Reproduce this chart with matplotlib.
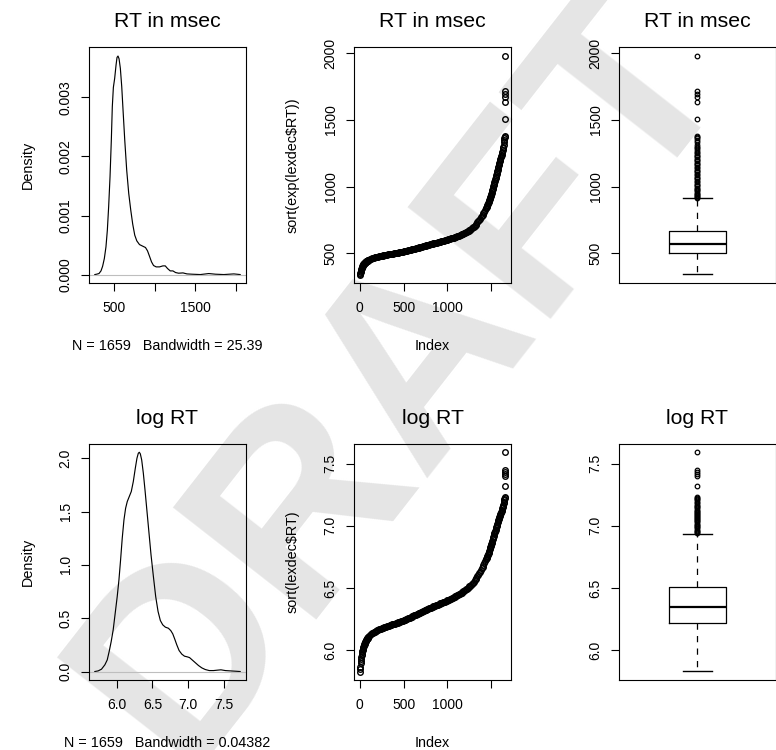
import numpy as np
import matplotlib
matplotlib.use("Agg")
import matplotlib.pyplot as plt

plt.rcParams['font.family'] = ['Liberation Sans', 'DejaVu Sans']
plt.rcParams['lines.scale_dashes'] = False

# ---------------- data ----------------
n_obs = 1659
bandwidth_msec = 25.39
bandwidth_log = 0.04382
title_msec = "RT in msec"
title_log = "log RT"
ylab_msec = "sort(exp(lexdec$RT))"
ylab_log = "sort(lexdec$RT)"
watermark = "DRAFT"

# density estimate of RT in msec (density in units of 1e-3)
dens_msec_x = [264, 286, 315, 340, 360, 381, 401, 418, 434, 451,
               467, 479, 492, 508, 525, 537, 549, 562, 578, 595,
               611, 632, 656, 681, 706, 730, 755, 780, 813, 854,
               887, 912, 936, 961, 986, 1018, 1060, 1101, 1130, 1158,
               1191, 1224, 1257, 1294, 1348, 1397, 1459, 1562, 1665, 1747,
               1850, 1973, 2051]
dens_msec_y = [0.000, 0.006, 0.017, 0.062, 0.141, 0.271, 0.469, 0.751, 1.147, 1.655,
               2.277, 2.842, 3.169, 3.322, 3.548, 3.678, 3.701, 3.655, 3.492, 3.181,
               2.785, 2.277, 1.768, 1.373, 1.090, 0.853, 0.667, 0.571, 0.508, 0.480,
               0.458, 0.401, 0.311, 0.215, 0.153, 0.130, 0.130, 0.147, 0.147, 0.102,
               0.062, 0.062, 0.034, 0.023, 0.028, 0.011, 0.006, 0.000, 0.017, 0.006,
               0.000, 0.011, 0.000]

# density estimate of log RT
dens_log_x = [5.697, 5.744, 5.790, 5.837, 5.870, 5.897, 5.925, 5.953, 5.981, 6.009,
              6.033, 6.056, 6.079, 6.103, 6.126, 6.149, 6.177, 6.205, 6.233, 6.261,
              6.284, 6.303, 6.317, 6.331, 6.350, 6.373, 6.396, 6.424, 6.452, 6.480,
              6.513, 6.545, 6.578, 6.610, 6.643, 6.680, 6.722, 6.755, 6.783, 6.811,
              6.839, 6.871, 6.909, 6.946, 6.983, 7.016, 7.053, 7.095, 7.142, 7.188,
              7.235, 7.291, 7.351, 7.407, 7.454, 7.515, 7.584, 7.654, 7.722]
dens_log_y = [0.000, 0.006, 0.022, 0.063, 0.109, 0.188, 0.281, 0.391, 0.547, 0.703,
              0.859, 1.047, 1.250, 1.422, 1.531, 1.594, 1.641, 1.688, 1.781, 1.906,
              2.000, 2.047, 2.056, 2.041, 1.984, 1.859, 1.703, 1.500, 1.297, 1.094,
              0.891, 0.703, 0.563, 0.478, 0.438, 0.416, 0.406, 0.384, 0.353, 0.303,
              0.250, 0.197, 0.163, 0.144, 0.138, 0.131, 0.109, 0.084, 0.056, 0.034,
              0.019, 0.009, 0.009, 0.013, 0.016, 0.009, 0.006, 0.003, 0.000]

# sorted log RT
# smallest values: ranks 1, 4, 7, ..., 100
log_rt_head = [5.828, 5.845, 5.868, 5.893, 5.912, 5.928, 5.944, 5.958, 5.970, 5.982,
               5.993, 6.003, 6.012, 6.021, 6.029, 6.036, 6.042, 6.047, 6.052, 6.057,
               6.062, 6.066, 6.070, 6.074, 6.078, 6.082, 6.086, 6.089, 6.092, 6.095,
               6.098, 6.101, 6.103, 6.106]
# bulk: ranks 111, 121, ..., 1441
log_rt_body = [6.115, 6.122, 6.128, 6.134, 6.139, 6.144, 6.148, 6.152, 6.156,
               6.160, 6.163, 6.167, 6.170, 6.173, 6.176, 6.179, 6.182, 6.185, 6.188,
               6.190, 6.193, 6.195, 6.198, 6.200, 6.203, 6.205, 6.207, 6.210, 6.212,
               6.214, 6.216, 6.218, 6.221, 6.224, 6.226, 6.229, 6.232, 6.234, 6.237,
               6.240, 6.243, 6.246, 6.249, 6.252, 6.256, 6.259, 6.262, 6.266, 6.269,
               6.272, 6.275, 6.279, 6.282, 6.285, 6.289, 6.292, 6.295, 6.299, 6.302,
               6.305, 6.308, 6.312, 6.315, 6.319, 6.322, 6.325, 6.329, 6.332, 6.335,
               6.338, 6.341, 6.345, 6.348, 6.351, 6.354, 6.357, 6.360, 6.363, 6.366,
               6.370, 6.373, 6.376, 6.379, 6.382, 6.385, 6.388, 6.391, 6.394, 6.397,
               6.400, 6.404, 6.407, 6.411, 6.415, 6.419, 6.422, 6.426, 6.430, 6.434,
               6.438, 6.442, 6.446, 6.450, 6.454, 6.459, 6.463, 6.468, 6.473, 6.478,
               6.483, 6.488, 6.493, 6.499, 6.505, 6.512, 6.519, 6.526, 6.534, 6.542,
               6.550, 6.561, 6.572, 6.583, 6.595, 6.607, 6.620, 6.632, 6.645, 6.659,
               6.672, 6.686, 6.700, 6.714, 6.729]
# upper tail: ranks 1445, 1449, ..., 1649
log_rt_tail = [6.735, 6.742, 6.749, 6.757, 6.766, 6.775, 6.784, 6.792, 6.801, 6.810,
               6.819, 6.828, 6.836, 6.845, 6.853, 6.862, 6.871, 6.880, 6.890, 6.900,
               6.910, 6.920, 6.930, 6.940, 6.950, 6.960, 6.970, 6.980, 6.989, 6.999,
               7.009, 7.018, 7.028, 7.037, 7.046, 7.055, 7.064, 7.073, 7.081, 7.090,
               7.098, 7.106, 7.114, 7.122, 7.130, 7.140, 7.150, 7.160, 7.170, 7.180,
               7.195, 7.210]
# the largest values, with their ranks
rank_top = [1651, 1652, 1653, 1654, 1655, 1656, 1657, 1658, 1659]
log_rt_top = [7.218, 7.224, 7.228, 7.318, 7.400, 7.420, 7.435, 7.450, 7.591]

# boxplot five-number summaries
box_msec = dict(whislo=343, q1=500, med=572, q3=669, whishi=915)
box_log = dict(whislo=5.831, q1=6.217, med=6.348, q3=6.506, whishi=6.932)

# tick labels
ticks_msec_dx = [500, 1000, 1500, 2000]
ticklab_msec_dx = ["500", "", "1500", ""]
ticks_msec_dy = [0.0, 0.001, 0.002, 0.003]
ticklab_msec_dy = ["0.000", "0.001", "0.002", "0.003"]
ticks_log_dx = [6.0, 6.5, 7.0, 7.5]
ticklab_log_dx = ["6.0", "6.5", "7.0", "7.5"]
ticks_log_dy = [0.0, 0.5, 1.0, 1.5, 2.0]
ticklab_log_dy = ["0.0", "0.5", "1.0", "1.5", "2.0"]
ticks_index = [0, 500, 1000, 1500]
ticklab_index = ["0", "500", "1000", ""]
ticks_msec_v = [500, 1000, 1500, 2000]
ticklab_msec_v = ["500", "1000", "1500", "2000"]
ticks_log_v = [6.0, 6.5, 7.0, 7.5]
ticklab_log_v = ["6.0", "6.5", "7.0", "7.5"]

# ---------------- figure ----------------
W, H, DPI = 776, 750, 100
fig = plt.figure(figsize=(W / DPI, H / DPI), dpi=DPI, facecolor="white")

FS_TICK = 10
FS_LAB = 10.4
FS_TITLE = 15.3
LW = 0.8

col_left = [89, 354, 619]
col_w = [157, 157, 156.5]
row_top = [47.3, 443.5]
row_bot = [283.3, 680.3]


def make_ax(r, c):
    l = col_left[c]
    ax = fig.add_axes([l / W, 1 - row_bot[r] / H, col_w[c] / W,
                       (row_bot[r] - row_top[r]) / H])
    ax.patch.set_alpha(0)
    for s in ax.spines.values():
        s.set_linewidth(LW)
    ax.tick_params(direction="out", length=5.8, width=LW, labelsize=FS_TICK)
    ax.tick_params(axis="x", pad=7.0)
    ax.tick_params(axis="y", pad=6.0)
    return ax


def rlim(lo, hi):
    d = 0.04 * (hi - lo)
    return lo - d, hi + d


def px_text(xpx, ypx, s, **kw):
    fig.text(xpx / W, 1 - ypx / H, s, **kw)


def decorate(ax, r, c, title, xlab=None, ylab=None):
    cx = col_left[c] + col_w[c] / 2
    ax.set_title(title, fontsize=FS_TITLE, pad=14.4)
    if xlab:
        px_text(cx, row_bot[r] + 67, xlab, ha="center", va="baseline", fontsize=FS_LAB)
    if ylab:
        cy = (row_top[r] + row_bot[r]) / 2
        px_text(col_left[c] - 57.5, cy, ylab, ha="center", va="baseline",
                rotation=90, rotation_mode="anchor", fontsize=FS_LAB)


# watermark behind everything
fig.text(0.52, 0.50, watermark, fontsize=190, fontweight="bold", color="#e5e5e5",
         rotation=52, ha="center", va="center", zorder=-5)

# --- density panels ---
dens_sets = [
    (np.array(dens_msec_x), np.array(dens_msec_y) * 1e-3, bandwidth_msec, title_msec,
     ticks_msec_dx, ticklab_msec_dx, ticks_msec_dy, ticklab_msec_dy),
    (np.array(dens_log_x), np.array(dens_log_y), bandwidth_log, title_log,
     ticks_log_dx, ticklab_log_dx, ticks_log_dy, ticklab_log_dy),
]
for r, (dx, dy, bw, ttl, xt, xtl, yt, ytl) in enumerate(dens_sets):
    ax = make_ax(r, 0)
    ax.plot(dx, dy, color="black", lw=LW * 1.05)
    ax.axhline(0, color="#bebebe", lw=LW)
    ax.set_xlim(*rlim(dx.min(), dx.max()))
    ax.set_ylim(*rlim(0, dy.max()))
    ax.set_xticks(xt, xtl)
    ax.set_yticks(yt, ytl, rotation=90, va="center")
    decorate(ax, r, 0, ttl, xlab=f"N = {n_obs}   Bandwidth = {bw:.4g}", ylab="Density")

# --- sorted index panels ---
ranks = np.concatenate([np.arange(1, 101, 3), np.arange(111, 1442, 10),
                        np.arange(1445, 1650, 4), rank_top])
log_sorted = np.concatenate([log_rt_head, log_rt_body, log_rt_tail, log_rt_top])
msec_sorted = np.exp(log_sorted)

idx_sets = [
    (msec_sorted, title_msec, ylab_msec, ticks_msec_v, ticklab_msec_v),
    (log_sorted, title_log, ylab_log, ticks_log_v, ticklab_log_v),
]
for r, (vals, ttl, yl, yt, ytl) in enumerate(idx_sets):
    ax = make_ax(r, 1)
    ax.plot(ranks, vals, linestyle="none", marker="o", ms=4.0, mew=1.0,
            mfc="none", mec="black")
    ax.set_xlim(*rlim(1, n_obs))
    ax.set_ylim(*rlim(vals.min(), vals.max()))
    ax.set_xticks(ticks_index, ticklab_index)
    ax.set_yticks(yt, ytl, rotation=90, va="center")
    decorate(ax, r, 1, ttl, xlab="Index", ylab=yl)

# --- boxplots ---
box_sets = [
    (box_msec, msec_sorted, title_msec, ticks_msec_v, ticklab_msec_v),
    (box_log, log_sorted, title_log, ticks_log_v, ticklab_log_v),
]
for r, (st, vals, ttl, yt, ytl) in enumerate(box_sets):
    ax = make_ax(r, 2)
    stats = dict(st)
    stats["fliers"] = vals[vals > st["whishi"]]
    ax.bxp([stats], positions=[1], widths=0.367, capwidths=0.187, showfliers=True,
           boxprops=dict(color="black", lw=0.9),
           medianprops=dict(color="black", lw=1.6),
           whiskerprops=dict(color="black", lw=0.9, linestyle=(0, (4.5, 4.5))),
           capprops=dict(color="black", lw=1.0),
           flierprops=dict(marker="o", ms=3.3, mew=0.9, mfc="none", mec="black"))
    ax.set_xlim(0.5, 1.5)
    ax.set_ylim(*rlim(vals.min(), vals.max()))
    ax.set_xticks([])
    ax.set_yticks(yt, ytl, rotation=90, va="center")
    decorate(ax, r, 2, ttl)

fig.savefig("out.png", dpi=DPI, facecolor="white")
